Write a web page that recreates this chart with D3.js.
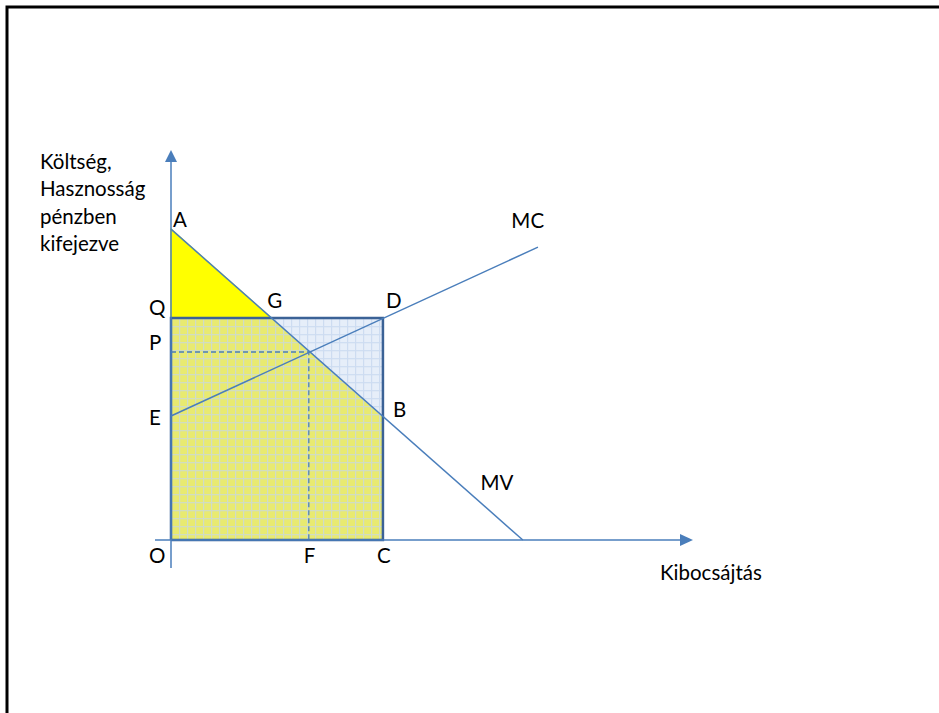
<!DOCTYPE html>
<html>
<head>
<meta charset="utf-8">
<script src="https://cdn.jsdelivr.net/npm/d3@7"></script>
<style>
  body { margin: 0; background: #fff; }
  svg text { font-family: Lato, "Open Sans", sans-serif; font-size: 20.5px; fill: #000; }
</style>
</head>
<body>
<svg id="chart" width="939" height="713"></svg>
<script>
// values, both axes in 0..100 units
var mvPoints = [[0, 79.7], [67.4, 0]];      // A -> x axis
var mcPoints = [[0, 31.8], [70.3, 75.1]];   // E -> MC end
var qLevel = 56.9;                          // Q / D height
var cQty = 40.6;                            // C / D quantity
var gQty = 19.2;                            // G on MV at Q level
var bLevel = 31.5;                          // B on MV at C
var eqPoint = [26.4, 48.2];                 // F, P intersection

var pointLabels = ['A', 'Q', 'G', 'D', 'P', 'E', 'B', 'O', 'F', 'C'];
var pointValues = [
  [0, 79.7], [0, qLevel], [gQty, qLevel], [cQty, qLevel], [0, eqPoint[1]],
  [0, 31.8], [cQty, bLevel], [0, 0], [eqPoint[0], 0], [cQty, 0]
];
var curveLabels = ['MC', 'MV'];
var curveLabelValues = [[65.2, 80.0], [59.3, 12.8]];
var yTitle = ['Költség,', 'Hasznosság', 'pénzben', 'kifejezve'];
var xTitle = 'Kibocsájtás';

var svg = d3.select('#chart');
var x = d3.scaleLinear().domain([0, 100]).range([171, 693]);
var y = d3.scaleLinear().domain([0, 100]).range([540, 150]);
var blue = '#4a7ebb';

// pattern fills
var defs = svg.append('defs');
function makeGrid(id, bg, line) {
  var p = defs.append('pattern')
    .attr('id', id)
    .attr('patternUnits', 'userSpaceOnUse')
    .attr('x', x(0)).attr('y', y(qLevel))
    .attr('width', 8).attr('height', 8);
  p.append('rect').attr('width', 8).attr('height', 8).attr('fill', bg);
  p.append('rect').attr('width', 8).attr('height', 1.2).attr('fill', line);
  p.append('rect').attr('width', 1.2).attr('height', 8).attr('fill', line);
}
makeGrid('gridBlue', '#e6eef9', '#cddcf1');
makeGrid('gridYellow', '#e8ea70', '#cfdcc8');

// frame (only top and left visible)
svg.append('path')
  .attr('d', 'M7,713V7H939')
  .attr('fill', 'none')
  .attr('stroke', '#000')
  .attr('stroke-width', 3);

var line = d3.line().x(function(d) { return x(d[0]); }).y(function(d) { return y(d[1]); });

// blue rectangle O-Q-D-C
svg.append('path')
  .datum([[0, 0], [0, qLevel], [cQty, qLevel], [cQty, 0]])
  .attr('d', function(d) { return line(d) + 'Z'; })
  .attr('fill', 'url(#gridBlue)');

// yellow/green area below MV inside the rectangle
svg.append('path')
  .datum([[0, 0], [0, qLevel], [gQty, qLevel], [cQty, bLevel], [cQty, 0]])
  .attr('d', function(d) { return line(d) + 'Z'; })
  .attr('fill', 'url(#gridYellow)');

// yellow triangle A-Q-G
svg.append('path')
  .datum([[0, 79.7], [0, qLevel], [gQty, qLevel]])
  .attr('d', function(d) { return line(d) + 'Z'; })
  .attr('fill', '#ffff00')
  .attr('stroke', '#ffff00')
  .attr('stroke-width', 1.5);

// rectangle border
svg.append('path')
  .datum([[0, 0], [0, qLevel], [cQty, qLevel], [cQty, 0], [0, 0]])
  .attr('d', line)
  .attr('fill', 'none')
  .attr('stroke', '#3b6296')
  .attr('stroke-width', 2.5);

// dashed guides to the intersection
svg.append('path')
  .datum([[0, eqPoint[1]], eqPoint, [eqPoint[0], 0]])
  .attr('d', line)
  .attr('fill', 'none')
  .attr('stroke', blue)
  .attr('stroke-width', 1.3)
  .attr('stroke-dasharray', '5,3');

// axes
svg.append('line')
  .attr('x1', x(0)).attr('x2', x(0))
  .attr('y1', y(0) + 28).attr('y2', y(100) + 10)
  .attr('stroke', blue).attr('stroke-width', 1.5);
svg.append('line')
  .attr('x1', x(0) - 16).attr('x2', x(100) - 12)
  .attr('y1', y(0)).attr('y2', y(0))
  .attr('stroke', blue).attr('stroke-width', 1.5);
svg.append('path')
  .attr('d', 'M' + x(0) + ',' + y(100) + 'l-6,12h12z')
  .attr('fill', blue);
svg.append('path')
  .attr('d', 'M' + x(100) + ',' + y(0) + 'l-13,-6v12z')
  .attr('fill', blue);

// MV and MC
svg.append('path').datum(mvPoints).attr('d', line)
  .attr('stroke', blue).attr('stroke-width', 1.5).attr('fill', 'none');
svg.append('path').datum(mcPoints).attr('d', line)
  .attr('stroke', blue).attr('stroke-width', 1.5).attr('fill', 'none');

// point labels
var labelOffset = {
  A: [2, -2], Q: [-22, -3], G: [-4, -10], D: [3, -10], P: [-22, -2],
  E: [-22, 9], B: [10, 0], O: [-22, 23], F: [-5, 23], C: [-6, 23]
};
svg.selectAll('.pt')
  .data(pointLabels)
  .enter().append('text')
  .attr('class', 'pt')
  .attr('x', function(d, i) { return x(pointValues[i][0]) + labelOffset[d][0]; })
  .attr('y', function(d, i) { return y(pointValues[i][1]) + labelOffset[d][1]; })
  .text(function(d) { return d; });

svg.selectAll('.curve')
  .data(curveLabels)
  .enter().append('text')
  .attr('class', 'curve')
  .attr('x', function(d, i) { return x(curveLabelValues[i][0]); })
  .attr('y', function(d, i) { return y(curveLabelValues[i][1]); })
  .text(function(d) { return d; });

// axis titles
svg.selectAll('.ytitle')
  .data(yTitle)
  .enter().append('text')
  .attr('class', 'ytitle')
  .attr('x', 40)
  .attr('y', function(d, i) { return 169 + i * 27.3; })
  .text(function(d) { return d; });
svg.append('text')
  .attr('x', 660).attr('y', 580)
  .text(xTitle);
</script>
</body>
</html>
